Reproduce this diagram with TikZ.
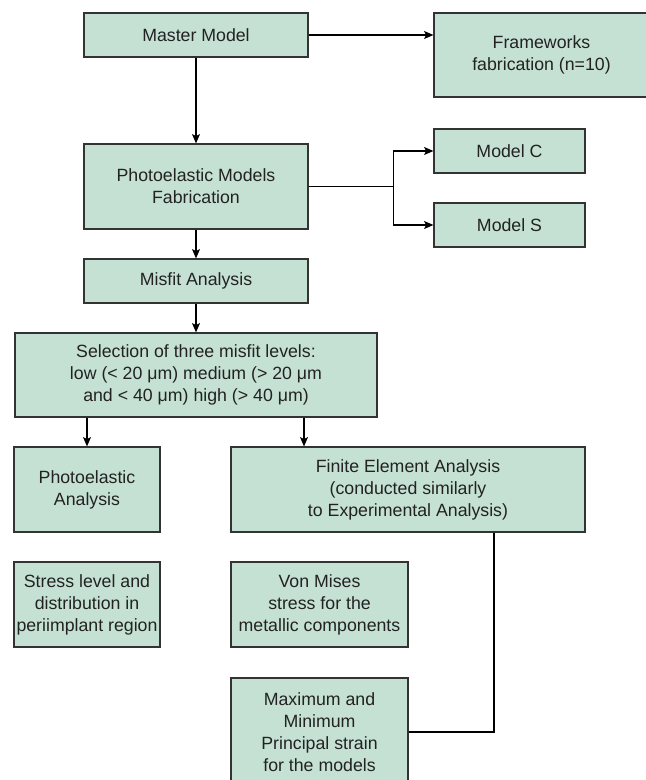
\documentclass[tikz,border=0pt]{standalone}
\usepackage{fontspec}
\setmainfont{Liberation Sans}
\usetikzlibrary{arrows.meta}
\definecolor{boxfill}{HTML}{C5E1D4}
\definecolor{boxline}{HTML}{333333}
\definecolor{textcol}{HTML}{222222}
\begin{document}
\begin{tikzpicture}[x=0.75pt,y=-0.75pt,
    box/.style={draw=boxline, fill=boxfill, line width=0.9pt, text=textcol,
      align=center, inner sep=0pt, font=\fontsize{13.3}{16.5}\selectfont},
    boxsize/.style 2 args={minimum width=#1*0.75pt, minimum height=#2*0.75pt},
    arr/.style={-{Stealth[length=7pt,width=6pt,inset=1.5pt]}, line width=0.8pt}]
  \useasboundingbox (0,0) rectangle (645,780);
  \draw
    (196,35) node[box, boxsize={224}{44}] (master){Master Model}
    (541.5,55) node[box, boxsize={215}{84}] (frame){Frameworks\\fabrication (n=10)}
    (196,186.5) node[box, boxsize={224}{85}] (pmf){Photoelastic Models\\Fabrication}
    (509.5,151) node[box, boxsize={151}{44}] (modelC){Model C}
    (509.5,225) node[box, boxsize={151}{44}] (modelS){Model S}
    (196,281) node[box, boxsize={224}{44}] (misfit){Misfit Analysis}
    (196,375) node[box, boxsize={362}{84}] (select){Selection of three misfit levels:\\low (< 20 μm) medium (> 20 μm\\and < 40 μm) high (> 40 μm)}
    (87,489.5) node[box, boxsize={146}{85}] (photo){Photoelastic\\Analysis}
    (408,489.5) node[box, boxsize={354}{85}] (fea){Finite Element Analysis\\(conducted similarly\\to Experimental Analysis)}
    (87,604.5) node[box, boxsize={146}{85}] (stress){Stress level and\\distribution in\\periimplant region}
    (319.5,604.5) node[box, boxsize={177}{85}] (vonmises){Von Mises\\stress for the\\metallic components}
    (319.5,732) node[box, boxsize={177}{108}] (maxmin){Maximum and\\Minimum\\Principal strain\\for the models};
  \coordinate (feaIn) at (304,0);
  \coordinate (feaOut) at (494,0);
  \begin{scope}[arr]
    \draw (master.east) -- (master.east -| frame.west);
    \draw (master) to (pmf);
    \draw (pmf.east) -- +(85,0) |- (modelC.west);
    \draw (pmf.east) -- +(85,0) |- (modelS.west);
    \draw (pmf) to (misfit);
    \draw (misfit) to (select);
    \draw (select.south -| photo.north) -- (photo.north);
    \draw (select.south -| feaIn) -- (fea.north -| feaIn);
  \end{scope}
  \draw[line width=0.8pt] (fea.south -| feaOut) |- (maxmin.east);
\end{tikzpicture}
\end{document}
